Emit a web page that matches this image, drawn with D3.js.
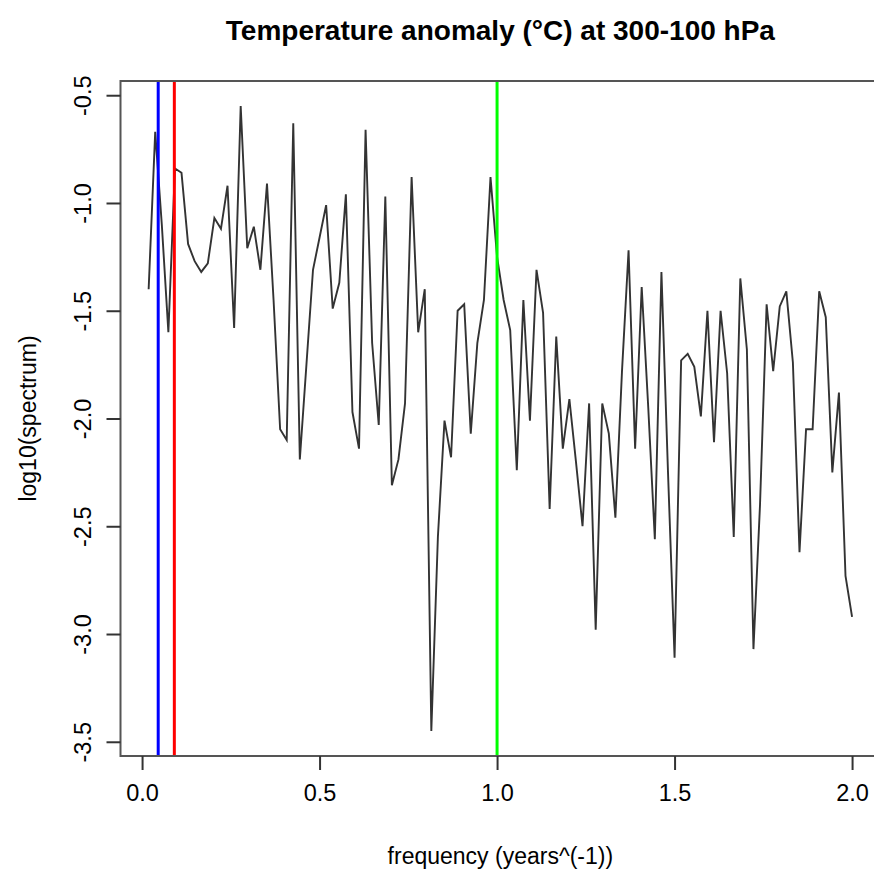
<!DOCTYPE html>
<html lang="en">
<head>
    <meta charset="UTF-8">
    <title>Temperature anomaly spectrum</title>
    <style>
    body {
        margin: 0;
        background: white;
    }
    svg text {
        font-family: "Liberation Sans", Arial, Helvetica, sans-serif;
        fill: black;
    }
    .axis text {
        font-size: 23.5px;
    }
    .axis line,
    .axis path {
        stroke: #333;
        stroke-width: 2;
    }
    .title {
        font-size: 28px;
        font-weight: bold;
        text-anchor: middle;
    }
    .label {
        font-size: 23px;
        text-anchor: middle;
    }
    </style>
</head>
<body>
<script src="https://cdn.jsdelivr.net/npm/d3@7/dist/d3.min.js"></script>
<script>
// Fourier frequencies k/54, k = 1..108 (years^-1)
let freq = [
    0.0185, 0.0370, 0.0556, 0.0741, 0.0926, 0.1111, 0.1296, 0.1481, 0.1667, 0.1852,
    0.2037, 0.2222, 0.2407, 0.2593, 0.2778, 0.2963, 0.3148, 0.3333, 0.3519, 0.3704,
    0.3889, 0.4074, 0.4259, 0.4444, 0.4630, 0.4815, 0.5000, 0.5185, 0.5370, 0.5556,
    0.5741, 0.5926, 0.6111, 0.6296, 0.6481, 0.6667, 0.6852, 0.7037, 0.7222, 0.7407,
    0.7593, 0.7778, 0.7963, 0.8148, 0.8333, 0.8519, 0.8704, 0.8889, 0.9074, 0.9259,
    0.9444, 0.9630, 0.9815, 1.0000, 1.0185, 1.0370, 1.0556, 1.0741, 1.0926, 1.1111,
    1.1296, 1.1481, 1.1667, 1.1852, 1.2037, 1.2222, 1.2407, 1.2593, 1.2778, 1.2963,
    1.3148, 1.3333, 1.3519, 1.3704, 1.3889, 1.4074, 1.4259, 1.4444, 1.4630, 1.4815,
    1.5000, 1.5185, 1.5370, 1.5556, 1.5741, 1.5926, 1.6111, 1.6296, 1.6481, 1.6667,
    1.6852, 1.7037, 1.7222, 1.7407, 1.7593, 1.7778, 1.7963, 1.8148, 1.8333, 1.8519,
    1.8704, 1.8889, 1.9074, 1.9259, 1.9444, 1.9630, 1.9815, 2.0000
];

let logSpec = [
    -1.40, -0.67, -1.10, -1.60, -0.84, -0.86, -1.19, -1.27, -1.32, -1.28,
    -1.07, -1.12, -0.92, -1.58, -0.55, -1.21, -1.11, -1.31, -0.91, -1.45,
    -2.05, -2.10, -0.63, -2.19, -1.75, -1.31, -1.16, -1.01, -1.49, -1.37,
    -0.96, -1.97, -2.14, -0.66, -1.65, -2.03, -0.97, -2.31, -2.19, -1.93,
    -0.88, -1.60, -1.40, -3.45, -2.55, -2.01, -2.18, -1.50, -1.47, -2.07,
    -1.65, -1.45, -0.88, -1.25, -1.45, -1.59, -2.24, -1.45, -2.01, -1.31,
    -1.51, -2.42, -1.62, -2.14, -1.91, -2.20, -2.50, -1.93, -2.98, -1.93,
    -2.07, -2.46, -1.78, -1.22, -2.14, -1.39, -1.95, -2.56, -1.32, -2.25,
    -3.11, -1.73, -1.70, -1.76, -1.99, -1.50, -2.11, -1.50, -1.79, -2.55,
    -1.35, -1.68, -3.07, -2.40, -1.47, -1.78, -1.48, -1.41, -1.74, -2.62,
    -2.05, -2.05, -1.41, -1.53, -2.25, -1.88, -2.73, -2.92
];

let xTicks = [0, 0.5, 1.0, 1.5, 2.0];
let yTicks = [-0.5, -1.0, -1.5, -2.0, -2.5, -3.0, -3.5];

// vertical reference lines: 22-year, 11-year and annual cycles
let refFreq = [1 / 22, 1 / 11, 1];
let refColor = ['#0000ff', '#ff0000', '#00ff00'];

let width = 874, height = 872;
let plotLeft = 120.5, plotTop = 81, plotBottom = 756;

let svg = d3.select('body').append('svg')
    .attr('width', width)
    .attr('height', height);

// R style 4% padding on both axes
let xExt = d3.extent(freq), xPad = (xExt[1] - xExt[0]) * 0.04;
let yExt = d3.extent(logSpec), yPad = (yExt[1] - yExt[0]) * 0.04;

let xDomain = [xExt[0] - xPad, xExt[1] + xPad];
let plotRight = plotLeft + (xDomain[1] - xDomain[0]) * 355;

let x = d3.scaleLinear()
    .domain(xDomain)
    .range([plotLeft, plotRight]);

let y = d3.scaleLinear()
    .domain([yExt[0] - yPad, yExt[1] + yPad])
    .range([plotBottom, plotTop]);

svg.append('defs').append('clipPath')
    .attr('id', 'plotClip')
    .append('rect')
    .attr('x', plotLeft)
    .attr('y', plotTop)
    .attr('width', plotRight - plotLeft)
    .attr('height', plotBottom - plotTop);

let line = d3.line()
    .x((d, i) => x(freq[i]))
    .y(d => y(d));

svg.append('path')
    .datum(logSpec)
    .attr('d', line)
    .attr('fill', 'none')
    .attr('stroke', '#333')
    .attr('stroke-width', 1.9)
    .attr('stroke-linejoin', 'miter');

svg.append('g')
    .attr('clip-path', 'url(#plotClip)')
    .selectAll('line')
    .data(refFreq)
    .enter()
    .append('line')
    .attr('x1', d => x(d))
    .attr('x2', d => x(d))
    .attr('y1', plotTop)
    .attr('y2', plotBottom)
    .attr('stroke', (d, i) => refColor[i])
    .attr('stroke-width', 3);

// box (right side falls outside the page, as in the original)
svg.append('rect')
    .attr('x', plotLeft)
    .attr('y', plotTop)
    .attr('width', plotRight - plotLeft)
    .attr('height', plotBottom - plotTop)
    .attr('fill', 'none')
    .attr('stroke', '#555')
    .attr('stroke-width', 2);

let xAxis = svg.append('g')
    .attr('class', 'axis')
    .attr('transform', `translate(0, ${plotBottom})`)
    .call(d3.axisBottom(x)
        .tickValues(xTicks)
        .tickFormat(d3.format('.1f'))
        .tickSize(14)
        .tickSizeOuter(0)
        .tickPadding(14));
xAxis.select('.domain').remove();

let yAxis = svg.append('g')
    .attr('class', 'axis')
    .attr('transform', `translate(${plotLeft}, 0)`)
    .call(d3.axisLeft(y)
        .tickValues(yTicks)
        .tickSize(14)
        .tickSizeOuter(0));
yAxis.select('.domain').remove();
yAxis.selectAll('.tick text')
    .attr('x', null)
    .attr('dy', null)
    .attr('text-anchor', 'middle')
    .attr('transform', 'translate(-30, 0) rotate(-90)')
    .text(d => d.toFixed(1));

svg.append('text')
    .attr('class', 'title')
    .attr('x', (plotLeft + plotRight) / 2)
    .attr('y', 40)
    .text('Temperature anomaly (°C) at 300-100 hPa');

svg.append('text')
    .attr('class', 'label')
    .attr('x', (plotLeft + plotRight) / 2)
    .attr('y', 864)
    .text('frequency (years^(-1))');

svg.append('text')
    .attr('class', 'label')
    .attr('transform', `translate(36, ${(plotTop + plotBottom) / 2}) rotate(-90)`)
    .text('log10(spectrum)');
</script>
</body>
</html>
